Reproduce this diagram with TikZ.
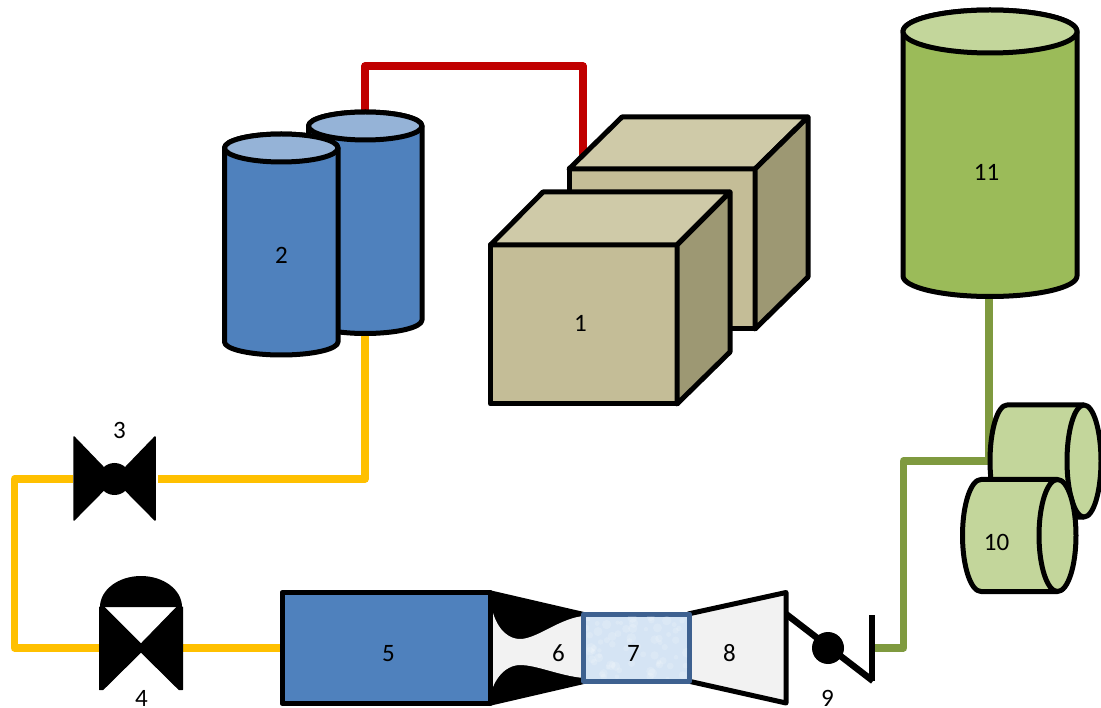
\documentclass[tikz,border=0pt]{standalone}
\usepackage{fontspec}
\setmainfont{Carlito}
\definecolor{pipeY}{HTML}{FFC000}
\definecolor{pipeR}{HTML}{C00000}
\definecolor{pipeG}{HTML}{7F9A3F}
\definecolor{blueB}{HTML}{4F81BD}
\definecolor{blueT}{HTML}{95B3D7}
\definecolor{tanF}{HTML}{C4BD97}
\definecolor{tanT}{HTML}{CFCAA8}
\definecolor{tanS}{HTML}{9D9873}
\definecolor{greenB}{HTML}{9BBB59}
\definecolor{greenL}{HTML}{C3D69B}
\definecolor{greyF}{HTML}{F2F2F2}
\definecolor{edgeB}{HTML}{3E6190}
\definecolor{iceF}{HTML}{D5E4F4}
\tikzset{
  x=1pt,y=-1pt,
  pipe/.style={line width=7.3pt,line join=round,line cap=butt},
  outl/.style={draw=black,line width=5pt,line join=round},
  cubeln/.style={draw=black,line width=5pt,line join=round},
  solidblk/.style={fill=black,draw=black,line width=1.5pt,line join=round},
  lab/.style={inner sep=0pt,font=\fontsize{25}{25}\selectfont},
  box5/.style={draw=black,fill=blueB,line width=5pt,minimum width=208pt,minimum height=111pt,inner sep=0pt,line join=round},
  box7/.style={draw=edgeB,fill=iceF,line width=5pt,minimum width=106pt,minimum height=67pt,inner sep=0pt,line join=round},
  hub/.style={circle,fill=black,inner sep=0pt,minimum size=32pt},
}
\begin{document}
\begin{tikzpicture}
\useasboundingbox (0,0) rectangle (1101,708);
% port coordinates
\coordinate (cylTop) at (365,112);
\coordinate (cylBot) at (365,333);
\coordinate (cubeIn) at (583,158);
\coordinate (v3L) at (73,479);
\coordinate (v3R) at (158,479);
\coordinate (v4L) at (100,648);
\coordinate (v4R) at (182,648);
\coordinate (barP) at (875,648);
\coordinate (tankBot) at (989,296);
\coordinate (compA) at (992,461);
\coordinate (turnA) at (903.5,461);
\coordinate (compB) at (989,464);
\node[box5] (b5) at (386,648) {};
% pipes
\draw[pipe,pipeR] (cylTop) -- (cylTop |- 0,66) -- (cubeIn |- 0,66) -- (cubeIn);
\draw[pipe,pipeY] (cylBot) |- (v3R);
\draw[pipe,pipeY] (v3L) -- (14.5,479) -- (14.5,648) -- (v4L);
\draw[pipe,pipeY] (v4R) -- (b5.west);
\draw[pipe,pipeG] (barP) -- (turnA |- barP) -- (turnA) -- (compA);
\draw[pipe,pipeG] (tankBot) -- (compB);
% cylinders 2
\draw[outl,fill=blueB] (308.5,126) -- (308.5,320) arc[start angle=180,end angle=0,x radius=56.75,y radius=13.5] -- (422,126) arc[start angle=360,end angle=180,x radius=56.75,y radius=14] -- cycle;
\draw[outl,fill=blueT] (365.25,126) ellipse[x radius=56.75,y radius=14];
\draw[outl,fill=blueB] (224.5,148) -- (224.5,342) arc[start angle=180,end angle=0,x radius=56.75,y radius=13] -- (338,148) arc[start angle=360,end angle=180,x radius=56.75,y radius=14] -- cycle;
\draw[outl,fill=blueT] (281.25,148) ellipse[x radius=56.75,y radius=14];
% cube back
\draw[cubeln,fill=tanF] (569,169) rectangle (755,329);
\draw[cubeln,fill=tanT] (569,169) -- (622,117) -- (808,117) -- (755,169) -- cycle;
\draw[cubeln,fill=tanS] (755,169) -- (808,117) -- (808,277) -- (755,329) -- cycle;
% cube front
\draw[cubeln,fill=tanF] (490.5,245) rectangle (677,404);
\draw[cubeln,fill=tanT] (490.5,245) -- (543,192) -- (730,192) -- (677,245) -- cycle;
\draw[cubeln,fill=tanS] (677,245) -- (730,192) -- (730,352) -- (677,404) -- cycle;
% tank 11
\draw[outl,fill=greenB] (903,31.5) -- (903,276) arc[start angle=180,end angle=0,x radius=87,y radius=20.5] -- (1077,31.5) arc[start angle=360,end angle=180,x radius=87,y radius=21.5] -- cycle;
\draw[outl,fill=greenL] (990,31.5) ellipse[x radius=87,y radius=21.5];
% compressors 10
\draw[outl,fill=greenL] (1084,405) -- (1007,405) arc[start angle=270,end angle=90,x radius=17,y radius=56] -- (1084,517);
\draw[outl,fill=greenL] (1084,461) ellipse[x radius=17,y radius=56];
\draw[outl,fill=greenL] (1057.5,479.5) -- (981,479.5) arc[start angle=270,end angle=90,x radius=18.5,y radius=56] -- (1057.5,591.5);
\draw[outl,fill=greenL] (1057.5,535.5) ellipse[x radius=18.5,y radius=56];
% valve 3
\draw[solidblk] (74,437) -- (114.5,479) -- (74,520) -- cycle;
\draw[solidblk] (155,437) -- (114.5,479) -- (155,520) -- cycle;
\node[hub] (h3) at (114.5,479) {};
% valve 4
\fill (100,607) arc[start angle=180,end angle=360,x radius=41,y radius=31] -- cycle;
\draw[fill=black,draw=black,line width=1pt,line join=round] (99.5,607) -- (104,607) -- (141,644) -- (177,607) -- (182.5,607) -- (182.5,689.5) -- (179,689.5) -- (141,652) -- (103,689.5) -- (99.5,689.5) -- cycle;
% nozzle 6
\fill (489,590) -- (584,612) -- (584,684) -- (489,706) -- cycle;
\fill[greyF] (493,613) .. controls (499,632) and (510,639) .. (520,639) .. controls (537,639) and (560,618) .. (584,616) -- (584,678) .. controls (560,676) and (537,665) .. (520,665) .. controls (510,665) and (499,672) .. (493,687) -- cycle;
% turbine 8
\draw[outl,line width=5pt,fill=greyF] (688,614) -- (786,592.5) -- (786,703) -- (688,681);
\node[box7] (b7) at (636.5,647.5) {};
\begin{scope}
\clip (586,616.5) rectangle (687,678.5);
\pgfmathsetseed{7}
\foreach \i in {1,...,70}{
  \pgfmathsetmacro{\px}{586+101*rnd}
  \pgfmathsetmacro{\py}{616+63*rnd}
  \pgfmathsetmacro{\pr}{2+3*rnd}
  \fill[white,opacity=0.16] (\px,\py) circle[radius=\pr];
}
\end{scope}
% valve 9
\coordinate (v9a) at (786,614);
\coordinate (v9b) at (873,681);
\draw[line width=6.5pt] (v9a) -- (v9b);
\node[hub] (h9) at (828,648) {};
\draw[line width=6.5pt] (872,615) -- (872,681);
% labels
\node[lab] (n1) at (580.5,323.5) {1};
\node[lab] (n2) at (281.5,255.5) {2};
\node[lab] (n3) at (119.5,430.5) {3};
\node[lab] (n4) at (141.5,698) {4};
\node[lab] (n5) at (388.5,653.5) {5};
\node[lab] (n6) at (558.5,653.5) {6};
\node[lab] (n7) at (633.5,653.5) {7};
\node[lab] (n8) at (729.5,653.5) {8};
\node[lab] (n9) at (827.5,698) {9};
\node[lab] (n10) at (996.5,542.5) {10};
\node[lab] (n11) at (986.5,172.5) {11};
\end{tikzpicture}
\end{document}
